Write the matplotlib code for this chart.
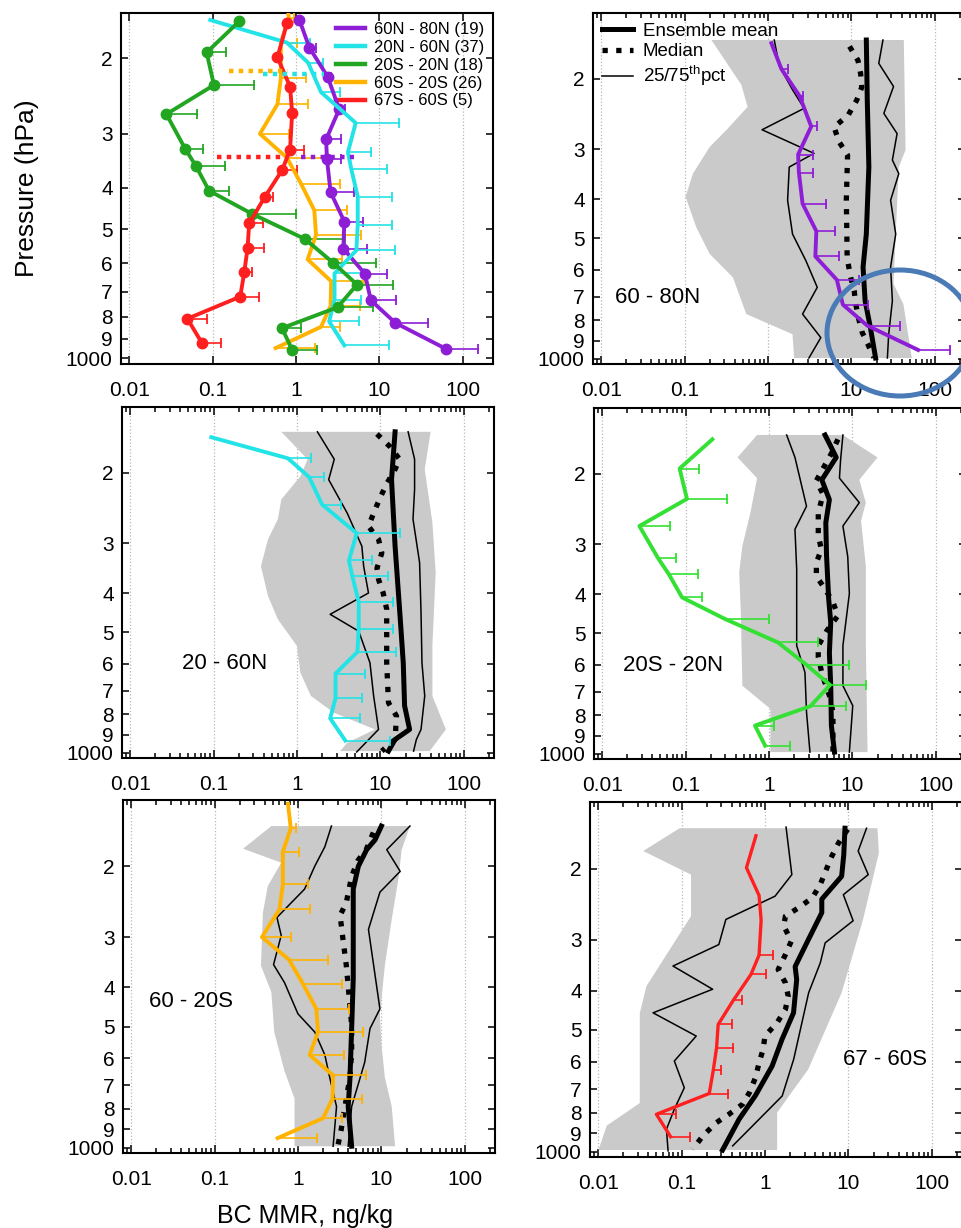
import numpy as np
import matplotlib
matplotlib.use('Agg')
import matplotlib.pyplot as plt
from matplotlib.lines import Line2D
from matplotlib.patches import Ellipse
from matplotlib.ticker import LogLocator, NullLocator, FixedLocator, FixedFormatter

plt.rcParams['font.family'] = ['Liberation Sans', 'DejaVu Sans']
plt.rcParams['mathtext.fontset'] = 'custom'
plt.rcParams['mathtext.rm'] = 'Liberation Sans'
plt.rcParams['mathtext.it'] = 'Liberation Sans:italic'

nan = np.nan

# ---- observations (pressure hPa, BC MMR ng/kg, upper end of error bar) ----
N80_OBS_P = [163, 189, 221, 263, 309, 343, 410, 480, 555, 635, 732, 826, 950]
N80_OBS = [1.1, 1.45, 2.4, 3.3, 2.3, 2.35, 2.6, 3.8, 3.7, 6.7, 7.9, 15.5, 63]
N80_OBS_HI = [nan, 1.72, 2.6, 3.9, 3.5, 3.5, 5.0, 6.3, 7.2, 12.3, 16, 38, 150]

N60_OBS_P = [163, 184, 205, 240, 283, 331, 362, 420, 490, 560, 634, 730, 820, 932]
N60_OBS = [0.094, 0.78, 1.4, 2.0, 5.2, 4.2, 4.6, 5.5, 5.5, 5.3, 2.9, 2.9, 2.5, 3.8]
N60_OBS_HI = [nan, 1.47, 2.1, 3.4, 17, 7.9, 12.4, 14.3, 14.3, 15.6, 6.6, 6.0, 5.7, 13]

TROP_OBS_P = [164, 194, 231, 270, 325, 356, 407, 461, 527, 599, 673, 760, 850, 954]
TROP_OBS = [0.21, 0.085, 0.104, 0.028, 0.047, 0.063, 0.091, 0.30, 1.28, 2.8, 5.4, 3.15, 0.68, 0.90]
TROP_OBS_HI = [nan, 0.146, 0.318, 0.0645, 0.076, 0.14, 0.156, 0.99, 3.9, 9.2, 14.5, 8.4, 1.14, 1.79]

S20_OBS_P = [140, 161, 184, 222, 256, 300, 341, 392, 452, 516, 588, 661, 755, 844, 946]
S20_OBS = [0.76, 0.82, 0.66, 0.66, 0.60, 0.37, 0.78, 1.15, 1.66, 1.74, 1.38, 2.64, 2.6, 2.0, 0.57]
S20_OBS_HI = [nan, 0.95, 1.02, 1.32, 1.38, 0.82, 2.3, 3.4, 4.1, 6.1, 3.6, 6.6, 5.8, 3.4, 1.69]

S60_OBS_P = [166, 199, 233, 268, 327, 365, 422, 485, 554, 630, 718, 808, 918]
S60_OBS = [0.78, 0.6, 0.85, 0.9, 0.85, 0.68, 0.42, 0.275, 0.263, 0.24, 0.215, 0.05, 0.074]
S60_OBS_HI = [nan, nan, nan, nan, 1.25, 1.03, 0.525, 0.4, 0.41, 0.30, 0.36, 0.085, 0.128]

# dotted horizontal marks in the first panel
TROPO_P = [214, 218, 340, 340]
TROPO_X0 = [0.157, 0.40, 0.113, 1.15]
TROPO_X1 = [0.8, 2.17, 0.8, 5.0]

# ---- model ensemble: min/max envelope, mean, median, 25th and 75th pct ----
N80_LO_P = [160, 207, 235, 268, 296, 345, 394, 469, 547, 626, 773, 868, 995]
N80_LO = [0.21, 0.48, 0.57, 0.32, 0.2, 0.126, 0.103, 0.138, 0.2, 0.38, 0.55, 1.97, 2.06]
N80_HI_P = [160, 301, 332, 488, 650, 730, 995]
N80_HI = [42.5, 44.6, 37, 34, 32, 42, 53]
N80_MEAN_P = [160, 226, 332, 488, 590, 716, 836, 995]
N80_MEAN = [15.1, 15.5, 16.2, 15.1, 13.8, 14.6, 16.9, 19.5]
N80_MED_P = [166, 180, 194, 210, 226, 246, 264, 287, 310, 400, 560, 626, 676, 730, 788, 860, 923, 993]
N80_MED = [9.5, 12, 12.9, 13.3, 11.6, 9.2, 6.2, 7.1, 9.0, 8.7, 8.9, 9.8, 10.8, 11.3, 12.1, 13.5, 15.9, 18.6]
N80_P25_P = [160, 186, 213, 237, 268, 307, 332, 402, 488, 568, 663, 773, 885, 995]
N80_P25 = [1.19, 1.37, 1.97, 2.71, 0.85, 3.57, 1.8, 1.72, 1.97, 2.84, 3.9, 2.6, 4.3, 3.1]
N80_P75_P = [160, 183, 209, 244, 274, 319, 345, 402, 488, 590, 716, 868, 995]
N80_P75 = [23.9, 21.3, 32, 24.5, 35.3, 31, 37, 29.5, 34, 29.5, 31, 28, 27]

N60_LO_P = [158, 185, 204, 233, 261, 293, 342, 406, 464, 541, 631, 721, 794, 874, 944, 990]
N60_LO = [0.65, 1.34, 1.1, 0.65, 0.59, 0.45, 0.37, 0.45, 0.59, 1.0, 1.1, 1.47, 2.77, 8.6, 4.0, 3.3]
N60_HI_P = [158, 196, 266, 355, 541, 721, 874, 990]
N60_HI = [40, 34, 42, 46, 42, 42, 61, 39]
N60_MEAN_P = [158, 208, 305, 447, 596, 763, 874, 926, 990]
N60_MEAN = [15, 13.6, 15, 17.1, 18.8, 19.5, 22.4, 15, 12.5]
N60_MED_P = [160, 172, 185, 196, 213, 231, 252, 272, 293, 317, 346, 369, 399, 438, 596, 750, 809, 926, 990]
N60_MED = [9.1, 13, 17, 15, 11.9, 9.9, 8.3, 7.2, 9.5, 10.4, 9.1, 9.5, 10.8, 11.9, 11.9, 12.5, 15.6, 15, 10.4]
N60_P25_P = [158, 185, 208, 252, 305, 342, 399, 451, 497, 596, 721, 874, 995]
N60_P25 = [1.76, 2.8, 2.4, 4.0, 6.0, 6.3, 7.2, 2.5, 5.5, 7.5, 8.3, 9.5, 5.2]
N60_P75_P = [158, 185, 220, 261, 335, 447, 596, 721, 874, 926, 990]
N60_P75 = [21.5, 25.7, 25.7, 24.6, 29.5, 30.7, 31.5, 34, 30.7, 27, 25]

TROP_LO_P = [160, 182, 205, 250, 303, 352, 444, 676, 772, 990]
TROP_LO = [0.72, 0.42, 0.72, 0.6, 0.48, 0.44, 0.46, 0.48, 1.04, 1.04]
TROP_HI_P = [160, 182, 207, 236, 262, 340, 537, 990]
TROP_HI = [7.7, 20, 12.1, 14.5, 12.7, 14.5, 14.5, 15.2]
TROP_MEAN_P = [160, 172, 182, 207, 232, 265, 320, 411, 470, 560, 676, 850, 990]
TROP_MEAN = [4.7, 5.6, 6.4, 4.3, 5.3, 4.8, 4.9, 5.2, 5.5, 5.3, 5.5, 5.6, 6.1]
TROP_MED_P = [164, 178, 194, 208, 225, 250, 285, 309, 333, 360, 387, 416, 452, 494, 537, 573, 621, 662, 715, 787, 916, 990]
TROP_MED = [6.7, 5.6, 4.45, 3.7, 4.45, 3.9, 3.9, 4.25, 3.7, 3.7, 4.66, 5.8, 6.7, 4.9, 3.9, 3.9, 4.25, 4.66, 5.3, 5.85, 5.85, 5.85]
TROP_P25_P = [160, 182, 241, 275, 346, 537, 626, 787, 990]
TROP_P25 = [1.63, 2.05, 2.82, 2.05, 2.15, 2.15, 2.7, 2.82, 3.1]
TROP_P75_P = [160, 186, 205, 236, 270, 322, 398, 537, 676, 758, 990]
TROP_P75 = [7.7, 7.2, 7.0, 12.1, 7.7, 8.8, 9.2, 7.7, 7.7, 10.1, 9.2]

S20_LO_P = [159, 181, 196, 224, 261, 353, 411, 516, 645, 755, 991]
S20_LO = [0.48, 0.22, 0.63, 0.435, 0.38, 0.36, 0.48, 0.52, 0.69, 0.91, 0.91]
S20_HI_P = [159, 182, 215, 271, 353, 465, 552, 668, 790, 991]
S20_HI = [22, 17.5, 16, 13.3, 11, 9.6, 10, 11, 13.3, 14.6]
S20_MEAN_P = [159, 172, 182, 200, 228, 287, 380, 506, 672, 790, 991]
S20_MEAN = [10, 8.4, 6.65, 5.3, 4.6, 4.6, 4.6, 4.4, 4.2, 4.0, 4.4]
S20_MED_P = [165, 181, 194, 212, 246, 265, 309, 353, 397, 444, 496, 578, 668, 755, 833, 900, 991]
S20_MED = [8.0, 6.65, 5.2, 4.4, 3.8, 3.2, 3.5, 3.8, 4.0, 4.2, 4.4, 4.4, 4.2, 3.8, 3.5, 3.3, 3.0]
S20_P25_P = [159, 179, 200, 228, 268, 297, 351, 389, 465, 516, 588, 668, 790, 991]
S20_P25 = [2.52, 2.1, 1.59, 1.2, 0.56, 0.63, 0.51, 0.69, 1.0, 1.59, 2.1, 2.4, 2.9, 2.64]
S20_P75_P = [159, 182, 206, 232, 287, 452, 506, 614, 790, 991]
S20_P75 = [22, 11.6, 16.8, 9.6, 7.0, 9.6, 7.3, 6.3, 4.4, 4.0]

S60_LO_P = [159, 181, 207, 262, 390, 455, 758, 862, 990]
S60_LO = [0.095, 0.0347, 0.13, 0.13, 0.038, 0.0316, 0.0316, 0.0127, 0.0101]
S60_HI_P = [159, 183, 267, 405, 626, 800, 990]
S60_HI = [22.3, 23.2, 15, 8.3, 3.3, 1.4, 1.4]
S60_MEAN_P = [159, 185, 209, 238, 257, 300, 349, 376, 454, 528, 614, 726, 831, 990]
S60_MEAN = [9.1, 8.8, 8.3, 4.8, 4.8, 3.3, 2.3, 2.4, 2.2, 1.6, 1.22, 0.77, 0.49, 0.31]
S60_MED_P = [160, 173, 188, 219, 236, 249, 262, 277, 302, 326, 355, 383, 413, 445, 480, 518, 559, 603, 656, 715, 763, 808, 848, 914, 986]
S60_MED = [9.8, 7.6, 6.2, 4.6, 3.7, 2.6, 1.76, 1.68, 2.07, 1.76, 1.44, 1.76, 1.9, 1.76, 1.4, 1.0, 0.95, 0.85, 0.77, 0.65, 0.54, 0.37, 0.26, 0.18, 0.136]
S60_P25_P = [158, 207, 234, 267, 308, 348, 397, 454, 518, 597, 695, 785, 880, 995]
S60_P25 = [1.79, 2.1, 1.32, 0.34, 0.28, 0.079, 0.236, 0.0456, 0.15, 0.082, 0.108, 0.082, 0.066, 0.069]
S60_P75_P = [159, 181, 207, 232, 269, 305, 342, 405, 591, 728, 863, 967]
S60_P75 = [16.5, 13.1, 17.3, 8.7, 11.4, 5.27, 4.6, 3.34, 2.21, 1.61, 0.71, 0.41]

REGION_LABELS = ['60N - 80N (19)', '20N - 60N (37)', '20S - 20N (18)', '60S - 20S (26)', '67S - 60S (5)']
PURPLE = '#8e1ed6'
CYAN = '#22e3e6'
GREEN = '#22a622'
LIME = '#33e033'
ORANGE = '#ffb300'
RED = '#ff1f1f'
GRAY = '#cacaca'

XTICKS = [0.01, 0.1, 1, 10, 100]
YTICKS = [200, 300, 400, 500, 600, 700, 800, 900, 1000]
YLABELS = ['2', '3', '4', '5', '6', '7', '8', '9', '1000']

W, H = 961, 1228
fig = plt.figure(figsize=(W / 100, H / 100), dpi=100)


def add_axes(left, top, bottom, width=372):
    return fig.add_axes([left / W, 1 - bottom / H, width / W, (bottom - top) / H])


def style(ax, ytop, minor=True):
    ax.set_xscale('log')
    ax.set_yscale('log')
    ax.set_xlim(0.008, 230)
    ax.set_ylim(1030, ytop)
    ax.xaxis.set_major_locator(FixedLocator(XTICKS))
    ax.xaxis.set_major_formatter(FixedFormatter(['0.01', '0.1', '1', '10', '100']))
    if minor:
        ax.xaxis.set_minor_locator(LogLocator(base=10, subs=np.arange(2, 10), numticks=20))
    else:
        ax.xaxis.set_minor_locator(NullLocator())
    ax.yaxis.set_major_locator(FixedLocator(YTICKS))
    ax.yaxis.set_major_formatter(FixedFormatter(YLABELS))
    ax.yaxis.set_minor_locator(NullLocator())
    ax.tick_params(which='both', direction='in', top=True, right=True, width=1.1)
    ax.tick_params(axis='x', which='major', length=6, labelsize=15, pad=12)
    ax.tick_params(axis='x', which='minor', length=3.5)
    ax.tick_params(axis='y', which='major', length=5, labelsize=15, pad=6)
    for s in ax.spines.values():
        s.set_linewidth(1.5)
    ax.set_axisbelow(True)
    ax.xaxis.grid(True, which='major', ls=':', color='#b8b8b8', lw=0.9)


def draw_obs(ax, p, v, hi, color, marker=None, lw=2.8, z=6):
    ax.plot(v, p, color=color, lw=lw, marker=marker, ms=7.5, zorder=z)
    for pi, vi, h in zip(p, v, hi):
        if np.isnan(h):
            continue
        ax.plot([vi, h], [pi, pi], color=color, lw=1.2, zorder=z - 0.5)
        ax.plot(h, pi, marker='|', ms=7, mew=1.3, color=color, zorder=z - 0.5)


def draw_model(ax, lo_p, lo, hi_p, hi, mean_p, mean, med_p, med, p25_p, p25, p75_p, p75):
    ax.fill(list(lo) + list(hi[::-1]), list(lo_p) + list(hi_p[::-1]),
            color=GRAY, lw=0, zorder=1)
    ax.plot(p25, p25_p, color='k', lw=1.1, zorder=3)
    ax.plot(p75, p75_p, color='k', lw=1.1, zorder=3)
    ax.plot(med, med_p, color='k', lw=3.8, ls=(0, (1, 1.6)), zorder=3)
    ax.plot(mean, mean_p, color='k', lw=3.6, zorder=4)


# ---- panel 1: all observations ----
ax = add_axes(121, 13, 364)
style(ax, 157, minor=False)
draw_obs(ax, S20_OBS_P, S20_OBS, S20_OBS_HI, ORANGE)
draw_obs(ax, N80_OBS_P, N80_OBS, N80_OBS_HI, PURPLE, marker='o')
draw_obs(ax, N60_OBS_P, N60_OBS, N60_OBS_HI, CYAN)
draw_obs(ax, TROP_OBS_P, TROP_OBS, TROP_OBS_HI, GREEN, marker='o')
draw_obs(ax, S60_OBS_P, S60_OBS, S60_OBS_HI, RED, marker='o')
for p, x0, x1, c in zip(TROPO_P, TROPO_X0, TROPO_X1, [ORANGE, CYAN, RED, PURPLE]):
    ax.plot([x0, x1], [p, p], color=c, lw=3.2, ls=(0, (1, 1.2)), zorder=7)
handles = [Line2D([], [], color=c, lw=3.2) for c in [PURPLE, CYAN, GREEN, ORANGE, RED]]
ax.legend(handles, REGION_LABELS, loc='upper right', bbox_to_anchor=(1.0, 1.0),
          frameon=False, fontsize=12, labelspacing=0.17, handlelength=1.75,
          handletextpad=0.5, borderaxespad=0.1, borderpad=0.45)

# ---- panel 2: 60 - 80N ----
ax = add_axes(593, 13, 364)
style(ax, 137)
draw_model(ax, N80_LO_P, N80_LO, N80_HI_P, N80_HI, N80_MEAN_P, N80_MEAN,
           N80_MED_P, N80_MED, N80_P25_P, N80_P25, N80_P75_P, N80_P75)
draw_obs(ax, N80_OBS_P, N80_OBS, N80_OBS_HI, PURPLE)
ax.text(0.06, 0.19, '60 - 80N', transform=ax.transAxes, fontsize=16, va='center')
mh = [Line2D([], [], color='k', lw=3.6),
      Line2D([], [], color='k', lw=3.8, ls=(0, (1, 1.6))),
      Line2D([], [], color='k', lw=1.1)]
ax.legend(mh, ['Ensemble mean', 'Median', r'25/75$^{\mathrm{th}}$pct'], loc='upper left',
          bbox_to_anchor=(0.0, 1.0), frameon=False, fontsize=13.5, labelspacing=0.2,
          handlelength=1.65, handletextpad=0.5, borderaxespad=0.1, borderpad=0.4)

# ---- panel 3: 20 - 60N ----
ax = add_axes(122, 407, 758)
style(ax, 137)
draw_model(ax, N60_LO_P, N60_LO, N60_HI_P, N60_HI, N60_MEAN_P, N60_MEAN,
           N60_MED_P, N60_MED, N60_P25_P, N60_P25, N60_P75_P, N60_P75)
draw_obs(ax, N60_OBS_P, N60_OBS, N60_OBS_HI, CYAN)
ax.text(0.16, 0.27, '20 - 60N', transform=ax.transAxes, fontsize=16, va='center')

# ---- panel 4: 20S - 20N ----
ax = add_axes(594, 408, 759)
style(ax, 137)
draw_model(ax, TROP_LO_P, TROP_LO, TROP_HI_P, TROP_HI, TROP_MEAN_P, TROP_MEAN,
           TROP_MED_P, TROP_MED, TROP_P25_P, TROP_P25, TROP_P75_P, TROP_P75)
draw_obs(ax, TROP_OBS_P, TROP_OBS, TROP_OBS_HI, LIME)
ax.text(0.078, 0.265, '20S - 20N', transform=ax.transAxes, fontsize=16, va='center')

# ---- panel 5: 60 - 20S ----
ax = add_axes(123, 800, 1153)
style(ax, 137)
draw_model(ax, S20_LO_P, S20_LO, S20_HI_P, S20_HI, S20_MEAN_P, S20_MEAN,
           S20_MED_P, S20_MED, S20_P25_P, S20_P25, S20_P75_P, S20_P75)
draw_obs(ax, S20_OBS_P, S20_OBS, S20_OBS_HI, ORANGE)
ax.text(0.07, 0.43, '60 - 20S', transform=ax.transAxes, fontsize=16, va='center')

# ---- panel 6: 67 - 60S ----
ax = add_axes(590, 802, 1157)
style(ax, 137)
draw_model(ax, S60_LO_P, S60_LO, S60_HI_P, S60_HI, S60_MEAN_P, S60_MEAN,
           S60_MED_P, S60_MED, S60_P25_P, S60_P25, S60_P75_P, S60_P75)
draw_obs(ax, S60_OBS_P, S60_OBS, S60_OBS_HI, RED, lw=2.4)
ax.text(0.68, 0.276, '67 - 60S', transform=ax.transAxes, fontsize=16, va='center')

fig.text(27 / W, 1 - 188 / H, 'Pressure (hPa)', rotation=90, ha='center', va='center', fontsize=19)
fig.text(305 / W, 1 - 1216 / H, 'BC MMR, ng/kg', ha='center', va='center', fontsize=18)

# highlight ring on the 60 - 80N panel
ring = Ellipse((900 / W, 1 - 333 / H), 146 / W, 126 / H, transform=fig.transFigure,
               fill=False, edgecolor='#4a7bb7', lw=3.6, zorder=20)
fig.add_artist(ring)

fig.savefig('out.png', dpi=100)
